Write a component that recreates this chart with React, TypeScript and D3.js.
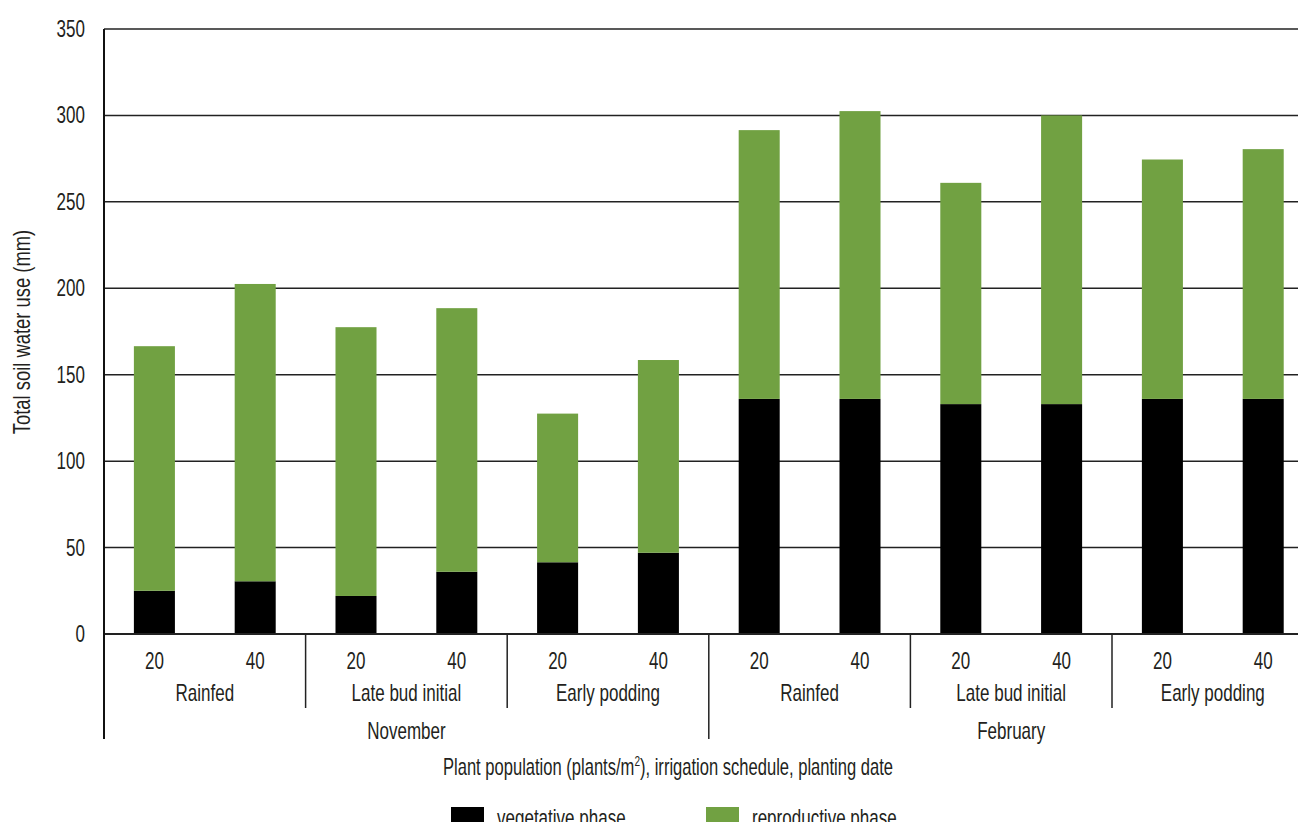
import React from "react";
import * as d3 from "d3";

// Plant population for each bar
const populations = ["20", "40", "20", "40", "20", "40", "20", "40", "20", "40", "20", "40"];
// Irrigation schedule groups (two bars each)
const schedules = ["Rainfed", "Late bud initial", "Early podding", "Rainfed", "Late bud initial", "Early podding"];
// Planting dates (six bars each)
const months = ["November", "February"];

// Soil water use (mm) by phase
const vegetative = [25, 30.5, 22, 36, 41.5, 47, 136, 136, 133, 133, 136, 136];
const reproductive = [141.5, 172, 155.5, 152.5, 86, 111.5, 155.5, 166.5, 128, 167, 138.5, 144.5];

const yTicks = [0, 50, 100, 150, 200, 250, 300, 350];
const seriesKeys = ["vegetative", "reproductive"];
const seriesLabels = ["vegetative phase", "reproductive phase"];
const seriesColors = ["#000000", "#71a142"];

const W = 1306;
const H = 830;
const left = 104;
const top = 29;
const bottom = 634;
const FONT = "'Liberation Sans', Arial, sans-serif";
const TEXT = "#231f20";
const FS = 23;
const SX = 0.74; // horizontal squeeze for a condensed look

type LabelProps = {
  x: number;
  y: number;
  anchor?: "start" | "middle" | "end";
  rotate?: number;
  sx?: number;
  children: React.ReactNode;
};

function Label({ x, y, anchor = "middle", rotate = 0, sx = SX, children }: LabelProps) {
  return (
    <text
      transform={`translate(${x},${y})${rotate ? ` rotate(${rotate})` : ""} scale(${sx},1)`}
      textAnchor={anchor}
      fontSize={FS}
      fill={TEXT}
    >
      {children}
    </text>
  );
}

export default function App() {
  const rows = populations.map((p, i) => ({
    idx: String(i),
    vegetative: vegetative[i],
    reproductive: reproductive[i],
  }));

  const x = d3
    .scaleBand<string>()
    .domain(rows.map((r) => r.idx))
    .range([left, left + 100.8 * 12])
    .paddingInner(0.593)
    .paddingOuter(0.2965);
  const step = x.step();
  const bandStart = (i: number) => left + i * step;

  const y = d3.scaleLinear().domain([0, 350]).range([bottom, top]);

  const stacked = d3.stack<any>().keys(seriesKeys)(rows);

  return (
    <div style={{ margin: -8 }}>
      <svg width={W} height={H} style={{ display: "block", fontFamily: FONT }}>
        <rect width={W} height={H} fill="#fff" />
        {/* horizontal grid */}
        {yTicks.slice(1).map((t) => (
          <line key={t} x1={left} x2={W} y1={y(t)} y2={y(t)} stroke="#222" strokeWidth={1.5} />
        ))}
        {/* y tick labels */}
        {yTicks.map((t) => (
          <Label key={t} x={85} y={y(t) + 8} anchor="end">
            {t}
          </Label>
        ))}
        {/* bars */}
        {stacked.map((s, si) => (
          <g key={s.key} fill={seriesColors[si]}>
            {s.map((d, i) => (
              <rect
                key={i}
                x={x(String(i))}
                width={x.bandwidth()}
                y={y(d[1])}
                height={y(d[0]) - y(d[1])}
              />
            ))}
          </g>
        ))}
        {/* axes */}
        <line x1={left} x2={W} y1={bottom} y2={bottom} stroke="#222" strokeWidth={2} />
        <line x1={left} x2={left} y1={top} y2={739} stroke="#111" strokeWidth={2} />
        {/* schedule and month dividers */}
        {schedules.map((_, g) =>
          g === 0 ? null : (
            <line
              key={g}
              x1={bandStart(g * 2)}
              x2={bandStart(g * 2)}
              y1={bottom}
              y2={g === 3 ? 739 : 708}
              stroke="#222"
              strokeWidth={1.5}
            />
          )
        )}
        {/* population labels */}
        {populations.map((p, i) => (
          <Label key={i} x={(x(String(i)) as number) + x.bandwidth() / 2} y={669}>
            {p}
          </Label>
        ))}
        {/* schedule labels */}
        {schedules.map((s, g) => (
          <Label key={g} x={bandStart(g * 2) + step} y={701}>
            {s}
          </Label>
        ))}
        {/* month labels */}
        {months.map((m, k) => (
          <Label key={m} x={bandStart(k * 6) + step * 3} y={739}>
            {m}
          </Label>
        ))}
        {/* axis titles */}
        <Label x={668} y={775} sx={0.72}>
          Plant population (plants/m<tspan dy={-9} fontSize={14}>2</tspan>
          <tspan dy={9}>), irrigation schedule, planting date</tspan>
        </Label>
        <Label x={30} y={332} rotate={-90} sx={0.8}>
          Total soil water use (mm)
        </Label>
        {/* legend */}
        {seriesLabels.map((lab, i) => {
          const lx = i === 0 ? 451 : 706;
          return (
            <g key={lab}>
              <rect x={lx} y={807} width={33} height={23} fill={seriesColors[i]} />
              <Label x={lx + 46} y={826} anchor="start">
                {lab}
              </Label>
            </g>
          );
        })}
      </svg>
    </div>
  );
}
